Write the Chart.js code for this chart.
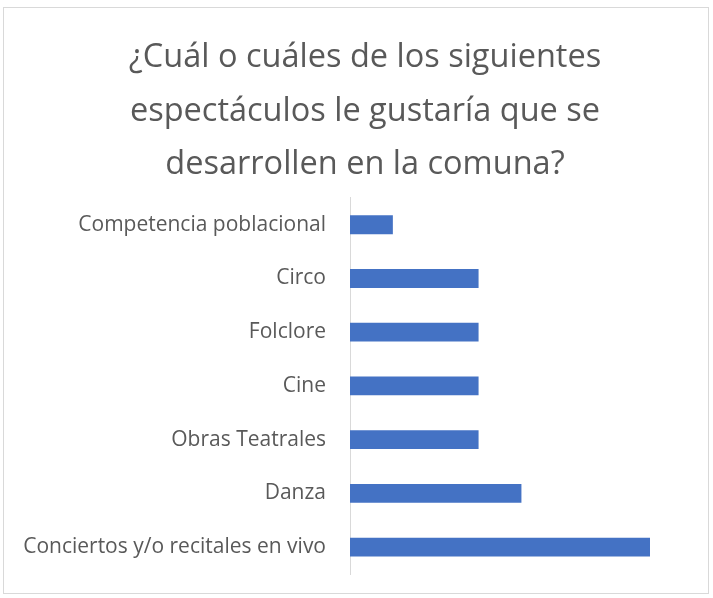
<!DOCTYPE html>
<html>
<head>
<meta charset="utf-8">
<script src="https://cdn.jsdelivr.net/npm/chart.js@4.4.0/dist/chart.umd.min.js"></script>
<style>
  html, body { margin: 0; padding: 0; background: #fff; }
  #frame {
    position: absolute; left: 3px; top: 7px; width: 706px; height: 587px;
    border: 1px solid #d9d9d9; box-sizing: border-box;
  }
  #wrap { position: absolute; left: 0; top: 0; width: 713px; height: 598px; }
</style>
</head>
<body>
<div id="frame"></div>
<div id="wrap"><canvas id="chart" width="713" height="598"></canvas></div>
<script>
  // categories top to bottom as shown
  const categories = [
    "Competencia poblacional",
    "Circo",
    "Folclore",
    "Cine",
    "Obras Teatrales",
    "Danza",
    "Conciertos y/o recitales en vivo"
  ];
  const responses = [1, 3, 3, 3, 3, 4, 7];
  const titleLines = [
    "¿Cuál o cuáles de los siguientes",
    "espectáculos le gustaría que se",
    "desarrollen en la comuna?"
  ];

  const ctx = document.getElementById("chart").getContext("2d");
  new Chart(ctx, {
    type: "bar",
    data: {
      labels: categories,
      datasets: [
        {
          data: responses,
          backgroundColor: "#4472C4",
          borderWidth: 0,
          barPercentage: 0.5,
          categoryPercentage: 0.7,
        },
      ],
    },
    options: {
      indexAxis: "y",
      responsive: false,
      animation: false,
      layout: { padding: { left: 17, right: 0, bottom: 24, top: 0 } },
      plugins: {
        legend: { display: false },
        tooltip: { enabled: false },
        title: {
          display: true,
          text: titleLines,
          color: "#595959",
          font: { family: "'Open Sans', 'Noto Sans', sans-serif", size: 32.5, weight: "normal", lineHeight: 1.65 },
          padding: { top: 31, bottom: 6 },
        },
      },
      scales: {
        x: {
          display: false,
          min: 0,
          max: 8.47,
        },
        y: {
          afterFit: (scale) => {
            scale.width = 333;
            scale.paddingTop = 0; // label padding would shrink the plot
            scale.paddingBottom = 0;
          },
          grid: { display: false, drawTicks: false },
          border: { display: true, color: "#d9d9d9", width: 1 },
          ticks: {
            color: "#595959",
            padding: 24,
            font: { family: "'Open Sans', 'Noto Sans', sans-serif", size: 21 },
          },
        },
      },
    },
  });
</script>
</body>
</html>
